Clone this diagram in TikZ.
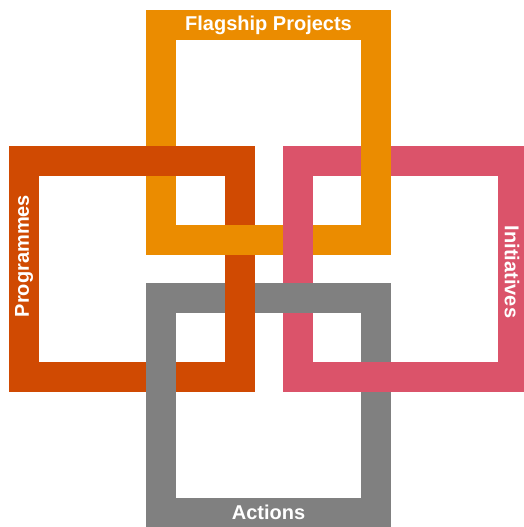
\documentclass[tikz,border=0pt]{standalone}
\usepackage{fontspec}
\setmainfont{Liberation Sans}
\usepackage{tikz}

\definecolor{tangerine}{HTML}{EB8C00}
\definecolor{rust}{HTML}{D04A02}
\definecolor{rose}{HTML}{DB536A}
\definecolor{slate}{HTML}{808080}

\begin{document}
\begin{tikzpicture}[x=1pt, y=-1pt,
    frame/.style={draw=#1, line width=30pt, line join=miter},
    patch/.style={fill=#1},
    tag/.style={text=white, inner sep=0pt, font=\bfseries\fontsize{20}{24}\selectfont}]
    \useasboundingbox (0,0) rectangle (524,527);
    \begin{scope}
      \clip (0,0) rectangle (524,527);
      \draw[frame=tangerine] (161,25) rectangle (376,240);
      \draw[frame=rust] (24,161) rectangle (240,377);
      \draw[frame=rose] (298,161) rectangle (513,377);
      \draw[frame=slate] (161,298) rectangle (376,513);
      \fill[patch=tangerine] (225,225) rectangle (255,255);
      \fill[patch=tangerine] (361,146) rectangle (391,176);
      \fill[patch=rust] (225,283) rectangle (255,313);
      \fill[patch=rose] (361,362) rectangle (391,392);
    \end{scope}
    \node[tag] (flagship) at (268.5,25) {Flagship Projects};
    \node[tag, rotate=90] (programmes) at (24,256) {Programmes};
    \node[tag, rotate=-90] (initiatives) at (512,272) {Initiatives};
    \node[tag] (actions) at (268.5,512.5) {Actions};
\end{tikzpicture}
\end{document}
